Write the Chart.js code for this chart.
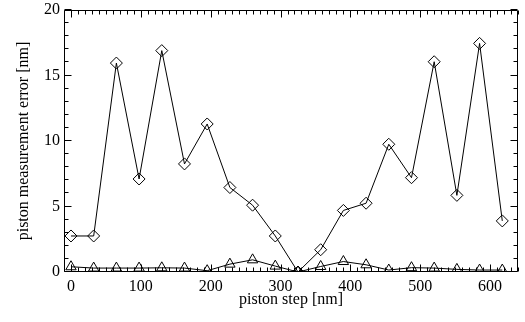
<!DOCTYPE html>
<html>
<head>
<meta charset="utf-8">
<script src="https://cdn.jsdelivr.net/npm/chart.js@4"></script>
<style>
  html, body { margin: 0; padding: 0; background: #fff; }
  #wrap { width: 525px; height: 322px; }
</style>
</head>
<body>
<div id="wrap"><canvas id="chart_1"></canvas></div>
<script>
// data
var steps = [0, 32.5, 65, 97.5, 130, 162.5, 195, 227.5, 260, 292.5,
             325, 357.5, 390, 422.5, 455, 487.5, 520, 552.5, 585, 617.5];
var errDiamond = [2.75, 2.75, 15.95, 7.1, 16.9, 8.25, 11.3, 6.45, 5.1, 2.75,
                  0.0, 1.7, 4.7, 5.25, 9.75, 7.2, 16.05, 5.85, 17.45, 3.9];
var errTriangle = [0.4, 0.3, 0.3, 0.3, 0.32, 0.3, 0.1, 0.6, 0.93, 0.45,
                   0.0, 0.42, 0.8, 0.55, 0.15, 0.33, 0.3, 0.2, 0.15, 0.15];
var xTicks = [0, 100, 200, 300, 400, 500, 600];
var yTicks = [0, 5, 10, 15, 20];
var xMinorStep = 10, yMinorStep = 1;
var xMin = -10, xMax = 640;
var yMin = 0, yMax = 20;

Chart.defaults.font.family = "'Liberation Serif', 'DejaVu Serif', serif";
Chart.defaults.font.size = 16;
Chart.defaults.color = "#000";

// IDL style box: frame all round, ticks pointing inwards on all four sides
var boxTicks = {
    id: "boxTicks",
    afterDraw: function (chart) {
        var ctx = chart.ctx, a = chart.chartArea;
        var xs = chart.scales.x, ys = chart.scales.y;
        var L = Math.round(a.left) + 0.5, R = Math.round(a.right) - 0.5;
        var T = Math.round(a.top) + 0.5, B = Math.round(a.bottom) - 0.5;
        ctx.save();
        ctx.strokeStyle = "#000";
        ctx.lineWidth = 1;
        ctx.beginPath();
        ctx.rect(L, T, R - L, B - T);
        var v, p, len;
        for (v = Math.ceil(xMin / xMinorStep) * xMinorStep; v <= xMax; v += xMinorStep) {
            p = Math.round(xs.getPixelForValue(v)) + 0.5;
            len = xTicks.indexOf(v) >= 0 ? 7 : 4;
            ctx.moveTo(p, B); ctx.lineTo(p, B - len);
            ctx.moveTo(p, T); ctx.lineTo(p, T + len);
        }
        for (v = Math.ceil(yMin / yMinorStep) * yMinorStep; v <= yMax; v += yMinorStep) {
            p = Math.round(ys.getPixelForValue(v)) - 0.5;
            len = yTicks.indexOf(v) >= 0 ? 7 : 4;
            ctx.moveTo(L, p); ctx.lineTo(L + len, p);
            ctx.moveTo(R, p); ctx.lineTo(R - len, p);
        }
        ctx.stroke();
        ctx.restore();
    }
};

function pts(ys) {
    return steps.map(function (x, i) { return {x: x, y: ys[i]}; });
}

new Chart(document.getElementById("chart_1"),
    {
        "type": "line",
        "data": {
            "datasets": [
                {
                    "data": pts(errDiamond),
                    "borderColor": "#000",
                    "borderWidth": 1,
                    "pointStyle": "rectRot",
                    "pointRadius": 6,
                    "pointBorderColor": "#000",
                    "pointBackgroundColor": "rgba(0,0,0,0)",
                    "pointBorderWidth": 1,
                    "tension": 0,
                    "clip": 0
                },
                {
                    "data": pts(errTriangle),
                    "borderColor": "#000",
                    "borderWidth": 1,
                    "pointStyle": "triangle",
                    "pointRadius": 6,
                    "pointBorderColor": "#000",
                    "pointBackgroundColor": "rgba(0,0,0,0)",
                    "pointBorderWidth": 1,
                    "tension": 0,
                    "clip": 0
                }
            ]
        },
        "options": {
            responsive: true,
            maintainAspectRatio: false,
            animation: false,
            layout: {padding: {top: 10, right: 4, left: 0, bottom: 0}},
            plugins: {legend: {display: false}, tooltip: {enabled: false}},
            scales: {
                x: {
                    type: "linear",
                    min: xMin,
                    max: xMax,
                    afterBuildTicks: function (s) { s.ticks = xTicks.map(function (v) { return {value: v}; }); },
                    afterFit: function (s) { s.height = 50; s.paddingLeft = 0; s.paddingRight = 0; },
                    ticks: {padding: 5, autoSkip: false, maxRotation: 0},
                    grid: {display: false, drawTicks: false},
                    border: {display: false},
                    title: {display: true, text: "piston step [nm]", padding: {top: 0, bottom: 13}}
                },
                y: {
                    type: "linear",
                    min: yMin,
                    max: yMax,
                    afterBuildTicks: function (s) { s.ticks = yTicks.map(function (v) { return {value: v}; }); },
                    afterFit: function (s) { s.width = 64; s.paddingTop = 0; s.paddingBottom = 0; },
                    ticks: {padding: 4, autoSkip: false},
                    grid: {display: false, drawTicks: false},
                    border: {display: false},
                    title: {display: true, text: "piston measurement error [nm]", padding: {top: 14, bottom: 0}}
                }
            }
        },
        plugins: [boxTicks]
    });
</script>
</body>
</html>
